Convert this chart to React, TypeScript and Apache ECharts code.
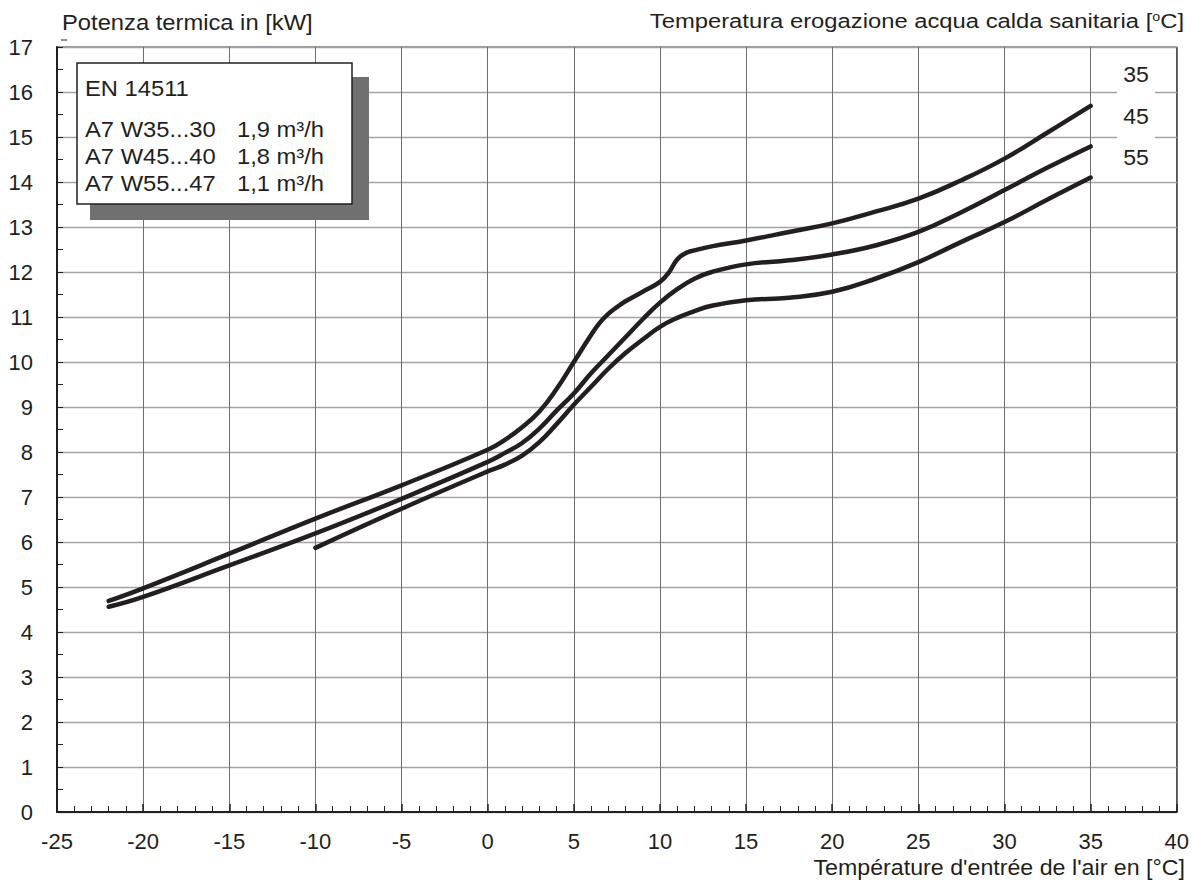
import React, { useEffect, useRef } from "react";
import * as echarts from "echarts";

const FONT = "'Liberation Sans', Arial, Helvetica, sans-serif";
const INK = "#231f20";

const xTicks = { min: -25, max: 40, interval: 5 };
const yTicks = { min: 0, max: 17, interval: 1 };

const x35 = [-22, -20, -15, -10, -5, 0, 1, 2, 3, 4, 5, 6, 6.5, 7, 7.5, 8, 9, 10, 10.5, 11, 11.5, 12, 13, 15, 17.5, 20, 22.5, 25, 27.5, 30, 32.5, 35];
const y35 = [4.69, 4.97, 5.74, 6.52, 7.26, 8.05, 8.27, 8.55, 8.9, 9.4, 10.0, 10.6, 10.87, 11.07, 11.22, 11.35, 11.56, 11.78, 11.98, 12.28, 12.42, 12.48, 12.57, 12.7, 12.89, 13.08, 13.34, 13.63, 14.04, 14.52, 15.1, 15.69];

const x45 = [-22, -20, -15, -10, -5, 0, 1, 2, 3, 4, 5, 6, 7, 8, 9, 10, 11, 12, 13, 15, 17.5, 20, 22.5, 25, 27.5, 30, 32.5, 35];
const y45 = [4.56, 4.78, 5.48, 6.19, 6.96, 7.78, 7.98, 8.2, 8.52, 8.92, 9.3, 9.75, 10.15, 10.55, 10.95, 11.32, 11.62, 11.85, 12.0, 12.17, 12.26, 12.39, 12.59, 12.89, 13.33, 13.82, 14.32, 14.79];

const x55 = [-10, -5, 0, 1, 2, 3, 4, 5, 6, 7, 8, 9, 10, 11, 12, 13, 15, 17.5, 20, 22.5, 25, 27.5, 30, 32.5, 35];
const y55 = [5.87, 6.74, 7.57, 7.72, 7.92, 8.22, 8.62, 9.05, 9.45, 9.85, 10.2, 10.5, 10.78, 10.98, 11.13, 11.25, 11.37, 11.43, 11.56, 11.85, 12.22, 12.67, 13.11, 13.61, 14.1];

const seriesNames = ["35", "45", "55"];
const legendTitle = "EN 14511";
const legendRows = [
  ["A7 W35...30", "1,9 m³/h"],
  ["A7 W45...40", "1,8 m³/h"],
  ["A7 W55...47", "1,1 m³/h"],
];
const yTitle = "Potenza termica in [kW]";
const xTitle = "Température d'entrée de l'air en [°C]";
const topRightTitle = "Temperatura erogazione acqua calda sanitaria [";

const zip = (xs: number[], ys: number[]) => xs.map((x, i) => [x, ys[i]]);

export default function App() {
  const ref = useRef<HTMLDivElement>(null);
  useEffect(() => {
    document.body.style.margin = "0";
    const chart = echarts.init(ref.current!, null, { renderer: "svg" });
    const lineSeries = (name: string, data: number[][]) => ({
      name,
      type: "line",
      data,
      smooth: 0.45,
      showSymbol: false,
      symbol: "none",
      lineStyle: { color: INK, width: 4.5, cap: "round", join: "round" },
      z: 5,
    });
    const txt = (x: number, y: number, text: string, size: number, sx: number, align = "left", extra: any = {}) => ({
      type: "text", x, y, scaleX: sx, scaleY: 1,
      style: { text, font: `${size}px ${FONT}`, fontSize: size, fontFamily: FONT, fill: INK, textAlign: align, textVerticalAlign: "middle", ...extra },
      z: 12,
    });
    const legendText: any[] = [txt(85, 88, legendTitle, 22, 1.08)];
    const rowY = [129, 156, 183];
    legendRows.forEach((r, i) => {
      legendText.push(txt(85, rowY[i], r[0], 22, 1.08));
      legendText.push(txt(237, rowY[i], r[1], 22, 1.08));
    });
    const seriesLabelY = [75, 117, 158];
    chart.setOption({
      animation: false,
      backgroundColor: "#ffffff",
      grid: { left: 57, top: 47, right: 15, bottom: 70, show: true, borderColor: "#333", borderWidth: 1.2 },
      xAxis: {
        type: "value",
        min: xTicks.min,
        max: xTicks.max,
        interval: xTicks.interval,
        axisLine: { show: true, onZero: false, lineStyle: { color: INK, width: 2 } },
        axisTick: { show: true, inside: true, length: 8, lineStyle: { color: INK, width: 1.5 } },
        minorTick: { show: true, splitNumber: 5, length: 6, lineStyle: { color: INK, width: 1 } },
        axisLabel: { fontSize: 22, fontFamily: FONT, color: INK, margin: 18 },
        splitLine: { show: true, lineStyle: { color: "#6f6f6f", width: 1 } },
      },
      yAxis: {
        type: "value",
        min: yTicks.min,
        max: yTicks.max,
        interval: yTicks.interval,
        axisLine: { show: true, onZero: false, lineStyle: { color: INK, width: 2 } },
        axisTick: { show: true, inside: true, length: 6, lineStyle: { color: INK, width: 1 } },
        minorTick: { show: true, splitNumber: 2, length: 6, lineStyle: { color: INK, width: 1 } },
        axisLabel: { fontSize: 22, fontFamily: FONT, color: INK, margin: 24 },
        splitLine: { show: true, lineStyle: { color: "#a3a3a3", width: 1.4 } },
      },
      series: [
        lineSeries(seriesNames[0], zip(x35, y35)),
        lineSeries(seriesNames[1], zip(x45, y45)),
        lineSeries(seriesNames[2], zip(x55, y55)),
      ],
      graphic: [
        txt(62, 22, yTitle, 22, 1.08),
        txt(1185, 868, xTitle, 22, 1.055, "right"),
        txt(1184, 21, topRightTitle + "{s|o}C]", 20, 1.19, "right", {
          rich: { s: { fontSize: 12, fontFamily: FONT, fill: INK, verticalAlign: "top", padding: [0, 0, 6, 0] } },
        }),
        { type: "line", shape: { x1: 61, y1: 40, x2: 67, y2: 40 }, style: { stroke: INK, lineWidth: 1 }, z: 12 },
        { type: "rect", shape: { x: 90, y: 77, width: 279, height: 143 }, style: { fill: "#707070" }, z: 10 },
        { type: "rect", shape: { x: 77, y: 63, width: 275, height: 141 }, style: { fill: "#ffffff", stroke: INK, lineWidth: 1.5 }, z: 11 },
        ...legendText,
        { type: "rect", shape: { x: 1117, y: 58, width: 38, height: 112 }, style: { fill: "#ffffff" }, z: 10 },
        ...seriesNames.map((n, i) => txt(1136, seriesLabelY[i], n, 22, 1.05, "center")),
      ],
    });
    return () => chart.dispose();
  }, []);
  return <div ref={ref} style={{ position: "fixed", left: 0, top: 0, width: 1192, height: 882 }} />;
}
